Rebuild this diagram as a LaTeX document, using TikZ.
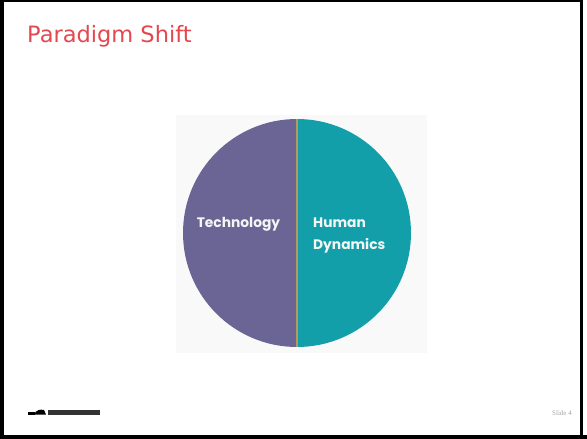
\documentclass[tikz,border=0pt]{standalone}
\usepackage{fontspec}
\setmainfont{DejaVu Sans}
\newfontfamily\serifx{Liberation Serif}
\newfontfamily\labelfont{Poppins}
\definecolor{titlered}{HTML}{E5474F}
\definecolor{techpurple}{HTML}{6A6595}
\definecolor{humanteal}{HTML}{139FAA}
\definecolor{divider}{HTML}{B49A5E}
\definecolor{imgbg}{HTML}{F9F9FA}
\tikzset{
  pielabel/.style={text=white!96!black,font=\labelfont\fontsize{13.8}{16}\selectfont\bfseries,inner sep=0pt},
}
\begin{document}
\begin{tikzpicture}[x=1pt,y=-1pt]
\useasboundingbox (0,0) rectangle (587,439);
\fill[white] (0,0) rectangle (587,439);
% frame
\fill[black] (0,0) rectangle (583,2);
\fill[black] (0,0) rectangle (4,439);
\fill[black] (580,0) rectangle (583,439);
\fill[black] (0,435) rectangle (587,439);
% title
\node[anchor=base west,text=titlered,font=\fontsize{22.5}{26}\selectfont,inner sep=0pt] (title) at (27,42) {Paradigm Shift};
% image background
\fill[imgbg] (176,115) rectangle (427,353);
% pie
\coordinate (c) at (297,233);
\fill[techpurple] (297,119) arc[start angle=-90,end angle=-270,radius=114] -- cycle;
\fill[humanteal] (297,119) arc[start angle=-90,end angle=90,radius=114] -- cycle;
\draw[divider,line width=1.4pt] (297,119) -- (297,347);
\node[pielabel,anchor=base] (tech) at (238.5,227) {Technology};
\node[pielabel,anchor=base west,align=left] (human) at (313,227) {Human};
\node[pielabel,anchor=base west] (dyn) at (313,249) {Dynamics};
% footer logo
\fill[black] (28,412) rectangle (35,414.5);
\fill[black] (34,414.5) .. controls (36,410) and (40,409) .. (44,410) -- (46,414.5) -- cycle;
\fill[black!80] (48,410) rectangle (100,414.5);
% slide number
\node[anchor=base east,text=gray!70,font=\serifx\fontsize{7}{8}\selectfont,inner sep=0pt] (num) at (572,415) {Slide 4};
\end{tikzpicture}
\end{document}
